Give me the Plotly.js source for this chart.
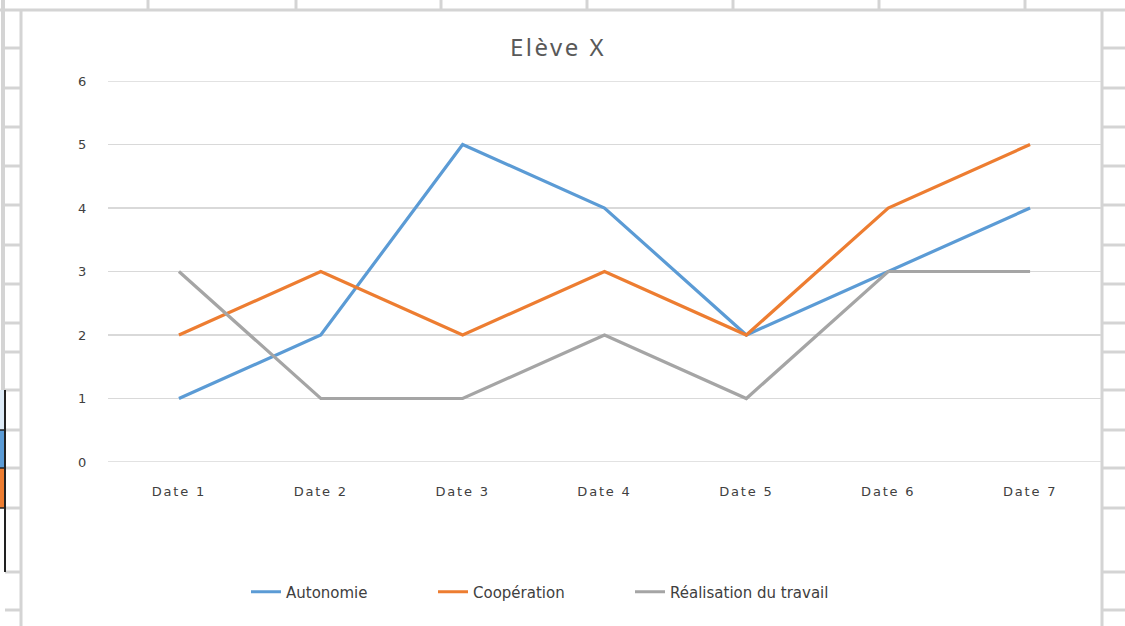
<!DOCTYPE html>
<html>
<head>
<meta charset="utf-8">
<script src="https://cdn.plot.ly/plotly-3.0.1.min.js"></script>
<style>
html,body{margin:0;padding:0;background:#fff;}
#chart{width:1125px;height:626px;}
.xtick text,.ytick text{letter-spacing:1.8px;}
.gtitle{letter-spacing:2.5px;}
</style>
</head>
<body>
<div id="chart"></div>
<script>
const categories = ["Date 1","Date 2","Date 3","Date 4","Date 5","Date 6","Date 7"];
const autonomie = [1,2,5,4,2,3,4];
const cooperation = [2,3,2,3,2,4,5];
const realisation = [3,1,1,2,1,3,3];
const seriesNames = ["Autonomie","Coopération","Réalisation du travail"];
const colors = ["#5B9BD5","#ED7D31","#A5A5A5"];
const yMin = 0, yMax = 6;

const W = 1125, H = 626;
const M = {l:108, r:24, t:81, b:164};
const pw = W - M.l - M.r, ph = H - M.t - M.b;
function px(x){ return (x - M.l)/pw; }
function py(y){ return (H - M.b - y)/ph; }

const legendIds = ['legend','legend2','legend3'];
const traces = [autonomie, cooperation, realisation].map((v,i)=>({
  type:'scatter', mode:'lines', x:categories, y:v, name:seriesNames[i],
  line:{color:colors[i], width:3.2}, legend:legendIds[i]
}));

const grid = '#d4d4d4';
const shapes = [];
function line(x0,y0,x1,y1,w,c){ shapes.push({type:'line',xref:'paper',yref:'paper',x0:px(x0),y0:py(y0),x1:px(x1),y1:py(y1),line:{color:c||grid,width:w||3},layer:'below'}); }
function rect(x0,y0,x1,y1,c){ shapes.push({type:'rect',xref:'paper',yref:'paper',x0:px(x0),y0:py(y0),x1:px(x1),y1:py(y1),fillcolor:c,line:{width:0},layer:'below'}); }
// spreadsheet surroundings
line(0,10,W,10,3);
[148,296,441,587,733,879,1025].forEach(x=>line(x,0,x,10,3));
line(21,10,21,H,3);
line(1102,10,1102,H,3);
line(3,0,3,390,4);
const rows=[48,88,127,166,205,245,284,323,352,390,430,468,508,572,610];
rows.forEach(y=>{ line(5,y,21,y,3); line(1102,y,W,y,3); });
rect(0,390,5,430,'#DDEBF7');
rect(0,430,5,468,'#5B9BD5');
rect(0,468,5,508,'#ED7D31');
line(5,390,5,572,2,'#222');
line(0,430,5,430,1.5,'#222');
line(0,468,5,468,1.5,'#222');
line(0,508,5,508,1.5,'#222');
// edge gridlines (range ends) drawn through the y axis
[yMin, yMax].forEach(v=>shapes.push({type:'line',xref:'paper',yref:'y',x0:0,x1:1,y0:v,y1:v,line:{color:'#D9D9D9',width:1.5},layer:'below'}));

function legendAt(xpx){
  return {orientation:'h', x:px(xpx), xanchor:'left', y:py(592), yanchor:'middle', font:{size:15,color:'#404040'}, bgcolor:'rgba(0,0,0,0)', itemwidth:30, borderwidth:0};
}

const layout = {
  width:W, height:H,
  margin:M,
  paper_bgcolor:'#fff', plot_bgcolor:'#fff',
  font:{family:'"DejaVu Sans", sans-serif', color:'#595959', size:12},
  title:{text:'Elève X', font:{family:'"Noto Sans", sans-serif', size:24, color:'#595959'}, x:558/W, xanchor:'center', y:1-48/H, yanchor:'middle'},
  xaxis:{type:'category', range:[-0.5,6.5], showgrid:false, zeroline:false, showline:false, ticks:'', tickfont:{size:13,color:'#404040'}, ticklabelstandoff:20},
  yaxis:{range:[yMin,yMax], dtick:1, tick0:0, showgrid:true, gridcolor:'#D9D9D9', gridwidth:1.5, zeroline:false, showline:false, ticks:'', tickfont:{size:13,color:'#404040'}, ticklabelstandoff:19},
  showlegend:true,
  legend:legendAt(246),
  legend2:legendAt(433),
  legend3:legendAt(630),
  shapes:shapes
};
Plotly.newPlot('chart', traces, layout, {displayModeBar:false, staticPlot:true});
</script>
</body>
</html>
